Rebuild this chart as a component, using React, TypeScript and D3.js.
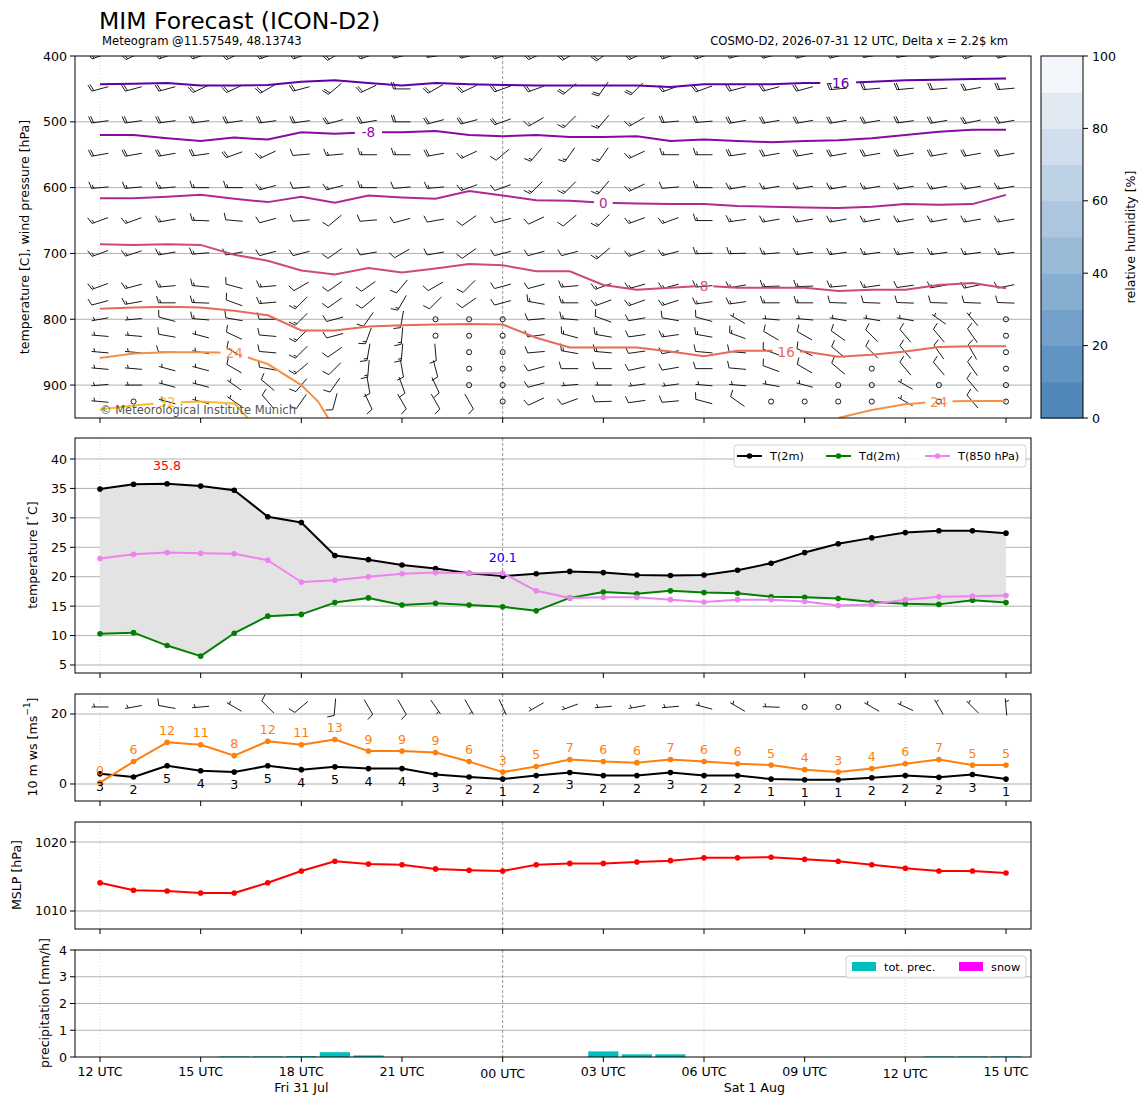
import React from "react";
import * as d3 from "d3";

// forecast hours from 12 UTC Fri 31 Jul
const HOURS = [0, 1, 2, 3, 4, 5, 6, 7, 8, 9, 10, 11, 12, 13, 14, 15, 16, 17, 18, 19, 20, 21, 22, 23, 24, 25, 26, 27];
const TICK_HOURS = [0, 3, 6, 9, 12, 15, 18, 21, 24, 27];
const TICK_LABELS = ["12 UTC", "15 UTC", "18 UTC", "21 UTC", "00 UTC", "03 UTC", "06 UTC", "09 UTC", "12 UTC", "15 UTC"];
const DOT_GRID_HOURS = [0, 6, 18, 24];
const MIDNIGHT_HOUR = 12;
const DAY_HOURS = [6, 19.5];
const DAY_NAMES = ["Fri 31 Jul", "Sat 1 Aug"];

// upper air wind (direction deg, speed kt), one row per pressure level
const LEVELS = [400, 450, 500, 550, 600, 650, 700, 750, 775, 800, 825, 850, 875, 900, 925];
const WIND_DIR = [
  [250, 245, 250, 250, 245, 250, 250, 240, 250, 255, 260, 255, 250, 245, 240, 235, 245, 250, 250, 255, 255, 255, 255, 260, 260, 255, 250, 255],
  [255, 255, 255, 245, 245, 240, 255, 230, 245, 270, 240, 245, 250, 250, 230, 215, 225, 250, 250, 255, 255, 255, 265, 265, 265, 265, 260, 265],
  [262, 262, 262, 262, 262, 262, 262, 255, 260, 270, 255, 255, 250, 240, 225, 220, 240, 265, 265, 260, 260, 260, 260, 260, 262, 260, 258, 260],
  [260, 260, 260, 262, 250, 245, 265, 265, 270, 270, 260, 245, 230, 220, 215, 215, 245, 270, 270, 262, 260, 260, 260, 260, 260, 260, 260, 260],
  [265, 265, 265, 270, 270, 255, 265, 255, 270, 265, 265, 250, 250, 225, 225, 220, 245, 265, 270, 260, 260, 260, 260, 260, 260, 260, 260, 260],
  [250, 250, 260, 272, 275, 255, 265, 230, 265, 255, 260, 235, 255, 245, 230, 225, 250, 250, 270, 262, 260, 260, 260, 260, 260, 260, 260, 260],
  [250, 252, 260, 265, 260, 255, 255, 235, 260, 240, 260, 235, 255, 255, 255, 230, 250, 255, 268, 268, 265, 262, 262, 262, 262, 262, 262, 262],
  [250, 255, 265, 275, 285, 265, 240, 235, 235, 220, 240, 225, 255, 255, 265, 250, 255, 255, 265, 260, 268, 268, 265, 262, 262, 260, 258, 258],
  [255, 260, 270, 272, 290, 265, 225, 235, 230, 210, 225, 235, 255, 280, 270, 250, 250, 252, 262, 262, 270, 270, 272, 272, 272, 272, 272, 272],
  [260, 265, 285, 275, 280, 270, 225, 255, 215, 190, 0, 0, 0, 265, 275, 290, 260, 280, 285, 300, 275, 275, 280, 280, 280, 305, 320, 0],
  [275, 275, 280, 285, 295, 275, 225, 255, 200, 185, 0, 0, 0, 262, 285, 280, 262, 262, 280, 290, 300, 300, 305, 315, 320, 320, 325, 0],
  [275, 275, 270, 280, 300, 275, 225, 235, 190, 185, 175, 0, 0, 265, 280, 275, 262, 260, 275, 275, 290, 295, 310, 315, 320, 325, 330, 0],
  [275, 275, 285, 285, 300, 280, 230, 225, 185, 170, 165, 0, 0, 255, 270, 270, 258, 260, 270, 275, 290, 300, 310, 0, 320, 320, 325, 0],
  [265, 270, 285, 285, 305, 310, 220, 215, 170, 160, 155, 0, 0, 255, 265, 270, 262, 262, 275, 275, 280, 285, 0, 0, 300, 0, 320, 0],
  [275, 0, 285, 285, 305, 320, 215, 195, 155, 150, 150, 150, 0, 245, 250, 268, 262, 265, 285, 305, 0, 0, 0, 0, 300, 0, 320, 0],
];
const WIND_KT = [
  [20, 20, 20, 20, 20, 20, 20, 20, 20, 20, 20, 20, 20, 20, 20, 20, 20, 20, 20, 20, 20, 20, 20, 20, 20, 20, 20, 20],
  [20, 20, 20, 20, 20, 20, 20, 20, 20, 20, 20, 20, 20, 20, 20, 20, 20, 20, 20, 20, 20, 20, 20, 20, 20, 20, 20, 20],
  [20, 20, 20, 20, 20, 20, 20, 20, 20, 20, 20, 20, 20, 15, 15, 15, 15, 20, 20, 20, 20, 20, 20, 20, 20, 20, 20, 20],
  [20, 20, 20, 20, 20, 15, 10, 15, 15, 15, 20, 15, 10, 15, 15, 15, 15, 15, 15, 20, 20, 20, 20, 20, 20, 20, 20, 20],
  [15, 15, 15, 15, 15, 15, 10, 15, 15, 10, 15, 15, 10, 15, 15, 15, 15, 10, 15, 15, 15, 15, 15, 15, 15, 15, 15, 15],
  [15, 15, 15, 15, 10, 10, 10, 10, 10, 10, 10, 10, 10, 10, 10, 15, 15, 15, 15, 15, 15, 15, 15, 15, 15, 15, 15, 15],
  [15, 15, 15, 15, 10, 10, 10, 10, 10, 10, 10, 10, 10, 10, 10, 15, 15, 15, 15, 15, 15, 15, 15, 15, 15, 15, 15, 15],
  [15, 15, 15, 15, 10, 15, 10, 10, 10, 10, 10, 10, 10, 10, 15, 15, 15, 15, 15, 15, 15, 15, 15, 15, 10, 15, 15, 10],
  [10, 15, 15, 15, 10, 15, 15, 10, 10, 15, 10, 10, 10, 15, 15, 15, 15, 15, 15, 15, 15, 15, 10, 10, 10, 10, 10, 10],
  [5, 5, 10, 15, 10, 10, 15, 10, 10, 15, 0, 0, 0, 10, 15, 10, 10, 10, 10, 5, 5, 5, 5, 5, 5, 5, 5, 0],
  [5, 5, 10, 5, 10, 10, 15, 10, 15, 15, 0, 0, 0, 10, 15, 15, 10, 15, 15, 15, 10, 10, 10, 10, 10, 10, 10, 0],
  [5, 5, 10, 5, 10, 10, 15, 10, 15, 15, 10, 0, 0, 10, 15, 15, 10, 10, 10, 10, 10, 10, 10, 10, 10, 10, 10, 0],
  [5, 5, 5, 5, 10, 10, 15, 10, 15, 10, 10, 0, 0, 10, 10, 10, 10, 10, 10, 10, 10, 10, 10, 0, 10, 10, 10, 0],
  [5, 5, 5, 5, 5, 10, 10, 10, 10, 10, 10, 0, 0, 10, 5, 5, 5, 5, 5, 5, 5, 5, 0, 0, 5, 0, 10, 0],
  [5, 0, 5, 5, 5, 10, 10, 10, 10, 10, 10, 10, 0, 10, 10, 10, 10, 10, 10, 10, 0, 0, 0, 0, 5, 0, 10, 0],
];

// isotherms spanning the whole period: pressure [hPa] per hour
const ISO_LEVELS = [-16, -8, 0, 8, 16];
const ISO_P = [
  [443, 442, 441, 445, 445, 444, 439, 437, 441, 445, 441, 443, 444, 445, 445, 445, 445, 447, 443, 443, 443, 441, 441, 439, 437, 436, 435, 434],
  [520, 520, 525, 529, 524, 527, 516, 518, 516, 516, 514, 520, 522, 520, 523, 523, 522, 529, 527, 529, 531, 529, 528, 525, 520, 515, 512, 512],
  [616, 616, 614, 611, 617, 622, 614, 623, 612, 615, 617, 605, 612, 619, 620, 623, 624, 625, 625, 628, 629, 630, 631, 629, 625, 626, 625, 611],
  [686, 687, 686, 687, 702, 711, 726, 732, 722, 729, 723, 716, 718, 727, 727, 748, 755, 752, 749, 752, 752, 752, 757, 755, 755, 748, 745, 753],
  [784, 782, 781, 782, 787, 794, 817, 817, 811, 809, 808, 807, 808, 828, 843, 843, 843, 849, 856, 848, 848, 849, 857, 854, 849, 842, 841, 841],
];
const ISO_LABEL_H = [22, 8, 15, 18, 20.45];
const ISO_LABEL_P = [441, 516, 623, 749, 850];

// warm isotherms that leave the panel at the bottom: [hour, hPa]
const WARM_LEVELS = [24, 32, 24];
const WARM_PTS = [
  [[0, 859], [1, 852], [2, 850], [3, 850], [4, 851], [5, 868], [6, 900], [6.5, 925], [6.8, 950]],
  [[0, 937], [1, 931], [2, 927], [3, 925], [4, 928], [4.4, 950]],
  [[22, 950], [23, 938], [24, 929], [25, 925], [26, 924], [27, 924]],
];
const WARM_LABEL_H = [4, 2, 25];
const WARM_LABEL_P = [851, 926, 925];

// 2 m values
const T2M = [34.9, 35.7, 35.8, 35.4, 34.7, 30.2, 29.2, 23.6, 22.9, 22.0, 21.4, 20.6, 20.1, 20.5, 20.9, 20.7, 20.3, 20.2, 20.3, 21.1, 22.3, 24.1, 25.6, 26.6, 27.5, 27.8, 27.8, 27.4];
const TD2M = [10.3, 10.5, 8.3, 6.5, 10.4, 13.3, 13.6, 15.6, 16.4, 15.2, 15.5, 15.2, 14.9, 14.2, 16.4, 17.4, 17.1, 17.6, 17.3, 17.2, 16.6, 16.5, 16.3, 15.7, 15.4, 15.3, 16.0, 15.6];
const T850 = [23.1, 23.8, 24.1, 24.0, 23.9, 22.8, 19.1, 19.4, 20.0, 20.5, 20.7, 20.6, 20.6, 17.6, 16.4, 16.5, 16.5, 16.1, 15.7, 16.1, 16.1, 15.8, 15.1, 15.3, 16.1, 16.6, 16.7, 16.8];

// 10 m wind
const WS10 = [2.9, 2.0, 5.2, 3.8, 3.4, 5.2, 4.1, 4.9, 4.4, 4.4, 2.7, 2.0, 1.4, 2.4, 3.3, 2.4, 2.4, 3.3, 2.4, 2.4, 1.4, 1.2, 1.2, 1.8, 2.4, 1.9, 2.7, 1.4];
const GUST10 = [0.4, 6.4, 11.9, 11.2, 8.1, 12.2, 11.2, 12.7, 9.4, 9.4, 9.0, 6.4, 3.4, 5.0, 7.0, 6.4, 6.1, 7.0, 6.4, 5.8, 5.4, 4.1, 3.4, 4.4, 5.8, 7.0, 5.4, 5.4];
const DIR10 = [270, 260, 280, 265, 300, 315, 230, 185, 150, 150, 145, 150, 155, 240, 250, 265, 260, 265, 285, 300, 272, 0, 0, 300, 295, 330, 315, 355];
const KT10 = [5, 5, 10, 5, 5, 10, 10, 10, 10, 10, 5, 5, 5, 5, 5, 5, 5, 5, 5, 5, 5, 0, 0, 5, 5, 5, 5, 5];

const MSLP = [1014.1, 1013.0, 1012.9, 1012.6, 1012.6, 1014.1, 1015.8, 1017.2, 1016.8, 1016.7, 1016.1, 1015.9, 1015.8, 1016.7, 1016.9, 1016.9, 1017.1, 1017.3, 1017.7, 1017.7, 1017.8, 1017.5, 1017.2, 1016.7, 1016.2, 1015.8, 1015.8, 1015.5];
const PRECIP = [0, 0, 0, 0, 0.02, 0.02, 0.03, 0.18, 0.06, 0, 0, 0, 0, 0, 0, 0.21, 0.1, 0.1, 0, 0, 0, 0, 0, 0, 0, 0.02, 0.02, 0.02];

const RH_BOUNDS = [0, 10, 20, 30, 40, 50, 60, 70, 80, 90, 100];
const RH_COLORS = ["#5287bb", "#6094c2", "#73a1c9", "#86aed0", "#99bad7", "#abc6de", "#bed2e6", "#d0deed", "#e1e9f3", "#f3f7fb"];
const RH_TICKS = [0, 20, 40, 60, 80, 100];

const FONT = "DejaVu Sans, Verdana, sans-serif";
const L_BARB = 17;

function barbPath(cx: number, cy: number, dir: number, kt: number, L: number): string {
  const a = (dir * Math.PI) / 180;
  const dx = Math.sin(a);
  const dy = -Math.cos(a);
  const px = -dy;
  const py = dx;
  const tx = cx - (dx * L) / 2;
  const ty = cy - (dy * L) / 2;
  const h = 0.4 * L;
  const w = 0.25 * L;
  const sp = 0.125 * L;
  const r = Math.round(kt / 5) * 5;
  const nFull = Math.floor(r / 10);
  const half = r - nFull * 10 >= 5;
  const f = (v: number) => v.toFixed(2);
  let d = `M${f(tx)},${f(ty)}L${f(tx + dx * L)},${f(ty + dy * L)}`;
  let off = L;
  for (let k = 0; k < nFull; k++) {
    const bx = tx + dx * off;
    const by = ty + dy * off;
    d += `M${f(bx)},${f(by)}L${f(bx + px * h + (dx * w) / 2)},${f(by + py * h + (dy * w) / 2)}`;
    off -= sp;
  }
  if (half) {
    if (nFull === 0) off -= 1.5 * sp;
    const bx = tx + dx * off;
    const by = ty + dy * off;
    d += `M${f(bx)},${f(by)}L${f(bx + (px * h) / 2 + (dx * w) / 4)},${f(by + (py * h) / 2 + (dy * w) / 4)}`;
  }
  return d;
}

const isoColor = (level: number) => d3.interpolatePlasma(0.17 + ((level + 16) / 48) * 0.68);

const PL = 75;
const PR = 1031;

const App: React.FC = () => {
  const W = 1148;
  const H = 1105;
  const x = d3.scaleLinear().domain([-0.745, 27.745]).range([PL, PR]);

  const yP = d3.scaleLinear().domain([400, 950]).range([56, 418]);
  const yT = d3.scaleLinear().domain([3.64, 43.57]).range([673, 438]);
  const yW = d3.scaleLinear().domain([-4.86, 25.71]).range([801, 694]);
  const yM = d3.scaleLinear().domain([1007.39, 1022.9]).range([929, 822]);
  const yR = d3.scaleLinear().domain([0, 4]).range([1057, 950]);

  const vGrid = (top: number, bottom: number, key: string) => (
    <g key={key}>
      {DOT_GRID_HOURS.map((h) => (
        <line key={h} x1={x(h)} x2={x(h)} y1={top} y2={bottom} stroke="#cfcfcf" strokeWidth={0.8} strokeDasharray="1,2" />
      ))}
      <line x1={x(MIDNIGHT_HOUR)} x2={x(MIDNIGHT_HOUR)} y1={top} y2={bottom} stroke="#777" strokeWidth={0.8} strokeDasharray="3,2" />
    </g>
  );
  const hGrid = (vals: number[], y: d3.ScaleLinear<number, number>) =>
    vals.map((v) => <line key={v} x1={PL} x2={PR} y1={y(v)} y2={y(v)} stroke="#b0b0b0" strokeWidth={1} />);
  const yTicks = (vals: number[], y: d3.ScaleLinear<number, number>) =>
    vals.map((v) => (
      <g key={v}>
        <line x1={PL - 5} x2={PL} y1={y(v)} y2={y(v)} stroke="#000" strokeWidth={1} />
        <text x={PL - 8} y={y(v)} textAnchor="end" dominantBaseline="central" fontSize={12.6}>
          {v}
        </text>
      </g>
    ));
  const xTicks = (bottom: number) =>
    TICK_HOURS.map((h) => <line key={h} x1={x(h)} x2={x(h)} y1={bottom} y2={bottom + 5} stroke="#000" strokeWidth={1} />);
  const frame = (top: number, bottom: number) => (
    <rect x={PL} y={top} width={PR - PL} height={bottom - top} fill="none" stroke="#000" strokeWidth={1} />
  );
  const yLabel = (cx: number, cy: number, content: React.ReactNode) => (
    <text transform={`translate(${cx},${cy}) rotate(-90)`} textAnchor="middle" dominantBaseline="central" fontSize={12.6}>
      {content}
    </text>
  );

  // upper air barbs
  const barbRows = LEVELS.map((p, i) => {
    let d = "";
    const calm: number[] = [];
    HOURS.forEach((h, j) => {
      if (WIND_KT[i][j] < 2.5) calm.push(h);
      else d += barbPath(x(h), yP(p), WIND_DIR[i][j], WIND_KT[i][j], L_BARB);
    });
    return (
      <g key={p}>
        <path d={d} fill="none" stroke="#000" strokeWidth={0.9} />
        {calm.map((h) => (
          <circle key={h} cx={x(h)} cy={yP(p)} r={0.15 * L_BARB} fill="none" stroke="#000" strokeWidth={0.9} />
        ))}
      </g>
    );
  });

  const isoLine = d3
    .line<number>()
    .x((_, j) => x(HOURS[j]))
    .y((p) => yP(p));
  const ptLine = d3
    .line<number[]>()
    .x((d) => x(d[0]))
    .y((d) => yP(d[1]));

  const contours: { path: string; level: number; lx: number; ly: number }[] = [];
  ISO_LEVELS.forEach((lv, i) =>
    contours.push({ path: isoLine(ISO_P[i]) || "", level: lv, lx: x(ISO_LABEL_H[i]), ly: yP(ISO_LABEL_P[i]) })
  );
  WARM_LEVELS.forEach((lv, i) =>
    contours.push({ path: ptLine(WARM_PTS[i]) || "", level: lv, lx: x(WARM_LABEL_H[i]), ly: yP(WARM_LABEL_P[i]) })
  );

  // panel 2
  const lineT = d3
    .line<number>()
    .x((_, j) => x(HOURS[j]))
    .y((v) => yT(v));
  const area = d3
    .area<number>()
    .x((_, j) => x(HOURS[j]))
    .y0((_, j) => yT(TD2M[j]))
    .y1((v) => yT(v));
  const iMax = d3.maxIndex(T2M);
  const iMin = d3.minIndex(T2M);

  const lineW = d3
    .line<number>()
    .x((_, j) => x(HOURS[j]))
    .y((v) => yW(v));
  const lineM = d3
    .line<number>()
    .x((_, j) => x(HOURS[j]))
    .y((v) => yM(v));

  const series = (vals: number[], gen: d3.Line<number>, y: d3.ScaleLinear<number, number>, color: string, key: string) => (
    <g key={key}>
      <path d={gen(vals) || ""} fill="none" stroke={color} strokeWidth={2} strokeLinejoin="round" />
      {vals.map((v, j) => (
        <circle key={j} cx={x(HOURS[j])} cy={y(v)} r={2.8} fill={color} />
      ))}
    </g>
  );

  const barW = x(0.9) - x(0);
  const cbX = 1041;
  const cbW = 42;
  const yCb = d3.scaleLinear().domain([0, 100]).range([418, 56]);

  return (
    <div style={{ position: "absolute", left: 0, top: 0, width: W, height: H, background: "#fff" }}>
      <svg width={W} height={H} fontFamily={FONT} style={{ display: "block" }}>
        <defs>
          <clipPath id="clip1">
            <rect x={PL} y={56} width={PR - PL} height={418 - 56} />
          </clipPath>
          {contours.map((c, i) => {
            const w = String(c.level).length * 8.6 + 10;
            return (
              <mask key={i} id={`lab${i}`} maskUnits="userSpaceOnUse" x={0} y={0} width={W} height={H}>
                <rect x={0} y={0} width={W} height={H} fill="#fff" />
                <rect x={c.lx - w / 2} y={c.ly - 9} width={w} height={18} fill="#000" />
              </mask>
            );
          })}
        </defs>

        {/* titles */}
        <text x={99} y={29} fontSize={23.5}>
          MIM Forecast (ICON-D2)
        </text>
        <text x={102} y={45} fontSize={11.6}>
          Meteogram @11.57549, 48.13743
        </text>
        <text x={1008} y={45} fontSize={11.6} textAnchor="end">
          COSMO-D2, 2026-07-31 12 UTC, Delta x = 2.2$ km
        </text>

        {/* panel 1: upper air */}
        {hGrid([500, 600, 700, 800, 900], yP)}
        {vGrid(56, 418, "g1")}
        <g clipPath="url(#clip1)">
          {barbRows}
          {contours.map((c, i) => (
            <path key={i} d={c.path} fill="none" stroke={isoColor(c.level)} strokeWidth={2} mask={`url(#lab${i})`} />
          ))}
        </g>
        {contours.map((c, i) => (
          <text key={i} x={c.lx} y={c.ly} fill={isoColor(c.level)} fontSize={13.5} textAnchor="middle" dominantBaseline="central">
            {c.level}
          </text>
        ))}
        <text x={100} y={414} fontSize={11.5} fill="#555">
          © Meteorological Institute Munich
        </text>
        {frame(56, 418)}
        {yTicks([400, 500, 600, 700, 800, 900], yP)}
        {xTicks(418)}
        {yLabel(24, 237, "temperature [C], wind pressure [hPa]")}

        {/* colorbar */}
        {RH_COLORS.map((c, i) => (
          <rect key={i} x={cbX} y={yCb(RH_BOUNDS[i + 1])} width={cbW} height={yCb(RH_BOUNDS[i]) - yCb(RH_BOUNDS[i + 1]) + 0.5} fill={c} />
        ))}
        <rect x={cbX} y={56} width={cbW} height={362} fill="none" stroke="#000" strokeWidth={1} />
        {RH_TICKS.map((v) => (
          <g key={v}>
            <line x1={cbX + cbW} x2={cbX + cbW + 5} y1={yCb(v)} y2={yCb(v)} stroke="#000" />
            <text x={cbX + cbW + 9} y={yCb(v)} dominantBaseline="central" fontSize={12.6}>
              {v}
            </text>
          </g>
        ))}
        {yLabel(1130, 237, "relative humidity [%]")}

        {/* panel 2: temperatures */}
        {hGrid([5, 10, 15, 20, 25, 30, 35, 40], yT)}
        {vGrid(438, 673, "g2")}
        <path d={area(T2M) || ""} fill="#e3e3e3" />
        {series(T2M, lineT, yT, "#000", "t2")}
        {series(TD2M, lineT, yT, "#008000", "td")}
        {series(T850, lineT, yT, "#ee82ee", "t850")}
        <text x={x(HOURS[iMax])} y={yT(T2M[iMax]) - 14} fill="#ff0000" fontSize={12.6} textAnchor="middle">
          {T2M[iMax].toFixed(1)}
        </text>
        <text x={x(HOURS[iMin])} y={yT(T2M[iMin]) - 14} fill="#0000ff" fontSize={12.6} textAnchor="middle">
          {T2M[iMin].toFixed(1)}
        </text>
        <rect x={734} y={445} width={292} height={22} rx={3} fill="#fff" fillOpacity={0.85} stroke="#d0d0d0" />
        {[
          ["#000", "T(2m)", 737],
          ["#008000", "Td(2m)", 826],
          ["#ee82ee", "T(850 hPa)", 925],
        ].map(([c, t, lx]) => (
          <g key={t as string}>
            <line x1={lx as number} x2={(lx as number) + 25} y1={456} y2={456} stroke={c as string} strokeWidth={2} />
            <circle cx={(lx as number) + 12.5} cy={456} r={2.8} fill={c as string} />
            <text x={(lx as number) + 33} y={456} dominantBaseline="central" fontSize={11.3}>
              {t}
            </text>
          </g>
        ))}
        {frame(438, 673)}
        {yTicks([5, 10, 15, 20, 25, 30, 35, 40], yT)}
        {xTicks(673)}
        {yLabel(
          32,
          555,
          <>
            <tspan>temperature [</tspan>
            <tspan dy={-5} fontSize={9}>
              ∘
            </tspan>
            <tspan dy={5}>C]</tspan>
          </>
        )}

        {/* panel 3: 10 m wind */}
        {hGrid([0, 20], yW)}
        {vGrid(694, 801, "g3")}
        <path
          d={HOURS.filter((_, j) => KT10[j] >= 2.5)
            .map((h) => barbPath(x(h), yW(22), DIR10[h], KT10[h], L_BARB))
            .join("")}
          fill="none"
          stroke="#000"
          strokeWidth={0.9}
        />
        {HOURS.filter((_, j) => KT10[j] < 2.5).map((h) => (
          <circle key={h} cx={x(h)} cy={yW(22)} r={0.15 * L_BARB} fill="none" stroke="#000" strokeWidth={0.9} />
        ))}
        {series(WS10, lineW, yW, "#000", "ws")}
        {series(GUST10, lineW, yW, "#ff7f0e", "gust")}
        {GUST10.map((v, j) => (
          <text key={j} x={x(HOURS[j])} y={yW(v) - 12} fill="#ff7f0e" fontSize={12.6} textAnchor="middle" dominantBaseline="central">
            {Math.round(v)}
          </text>
        ))}
        {WS10.map((v, j) => (
          <text key={j} x={x(HOURS[j])} y={yW(v) + 12.5} fill="#000" fontSize={12.6} textAnchor="middle" dominantBaseline="central">
            {Math.round(v)}
          </text>
        ))}
        {frame(694, 801)}
        {yTicks([0, 20], yW)}
        {xTicks(801)}
        {yLabel(
          32,
          747,
          <>
            <tspan>10 m ws [ms</tspan>
            <tspan dy={-5} fontSize={9}>
              −1
            </tspan>
            <tspan dy={5}>]</tspan>
          </>
        )}

        {/* panel 4: MSLP */}
        {hGrid([1010, 1020], yM)}
        {vGrid(822, 929, "g4")}
        {series(MSLP, lineM, yM, "#ff0000", "mslp")}
        {frame(822, 929)}
        {yTicks([1010, 1020], yM)}
        {xTicks(929)}
        {yLabel(16, 875, "MSLP [hPa]")}

        {/* panel 5: precipitation */}
        {hGrid([1, 2, 3], yR)}
        {vGrid(950, 1057, "g5")}
        {PRECIP.map((v, j) =>
          v > 0 ? (
            <rect key={j} x={x(HOURS[j]) - barW / 2} y={yR(v)} width={barW} height={yR(0) - yR(v)} fill="#00bfbf" />
          ) : null
        )}
        <rect x={846} y={956} width={180} height={22} rx={3} fill="#fff" fillOpacity={0.85} stroke="#d0d0d0" />
        <rect x={852} y={962} width={24} height={9} fill="#00bfbf" />
        <text x={884} y={967} dominantBaseline="central" fontSize={11.3}>
          tot. prec.
        </text>
        <rect x={959} y={962} width={24} height={9} fill="#ff00ff" />
        <text x={991} y={967} dominantBaseline="central" fontSize={11.3}>
          snow
        </text>
        {frame(950, 1057)}
        {yTicks([0, 1, 2, 3, 4], yR)}
        {xTicks(1057)}
        {yLabel(44, 1003, "precipitation [mm/h]")}
        {TICK_HOURS.map((h, i) => (
          <text key={h} x={x(h)} y={h === 12 || h === 24 ? 1078 : 1076} fontSize={12.6} textAnchor="middle">
            {TICK_LABELS[i]}
          </text>
        ))}
        {DAY_HOURS.map((h, i) => (
          <text key={h} x={x(h)} y={1092} fontSize={12.6} textAnchor="middle">
            {DAY_NAMES[i]}
          </text>
        ))}
      </svg>
    </div>
  );
};

export default App;
